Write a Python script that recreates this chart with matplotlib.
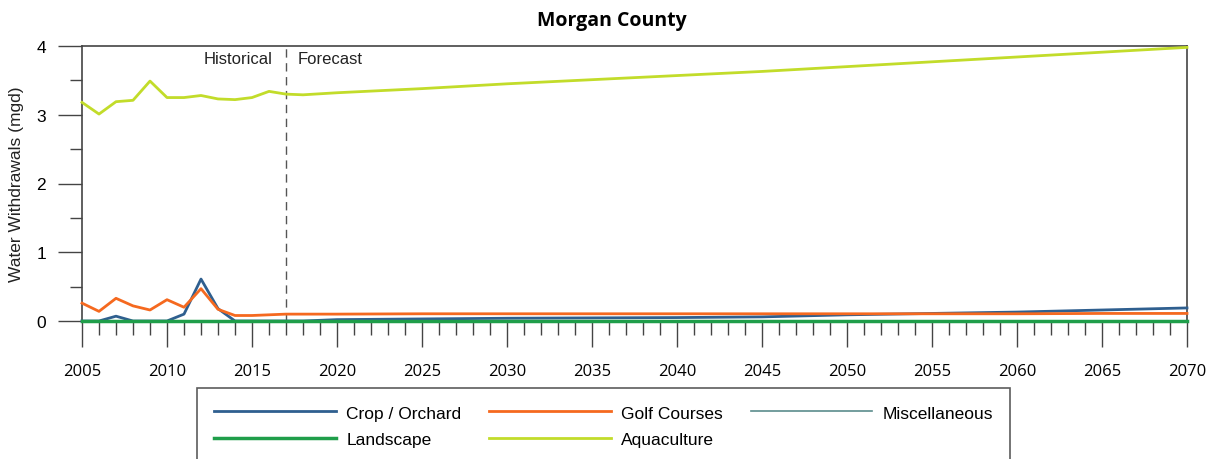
import numpy as np
import matplotlib
matplotlib.use('Agg')
import matplotlib.pyplot as plt
from matplotlib.ticker import MultipleLocator

# ── Data ──────────────────────────────────────────────────────────────────────
years = [2005, 2006, 2007, 2008, 2009, 2010, 2011, 2012, 2013, 2014, 2015,
         2016, 2017, 2018, 2020, 2025, 2030, 2035, 2040, 2045, 2050, 2055,
         2060, 2065, 2070]

crop_orchard = [0.00, 0.00, 0.07, 0.00, 0.00, 0.00, 0.10, 0.61, 0.18, 0.00, 0.00,
                0.00, 0.00, 0.00, 0.02, 0.03, 0.04, 0.045, 0.05, 0.06, 0.09, 0.11,
                0.13, 0.16, 0.19]
golf_courses = [0.26, 0.14, 0.33, 0.22, 0.16, 0.31, 0.20, 0.47, 0.17, 0.08, 0.08,
                0.09, 0.10, 0.10, 0.10, 0.105, 0.105, 0.105, 0.105, 0.105, 0.105, 0.105,
                0.105, 0.11, 0.11]
miscellaneous = [0.0] * len(years)
landscape = [0.0] * len(years)
aquaculture = [3.18, 3.01, 3.19, 3.21, 3.49, 3.25, 3.25, 3.28, 3.23, 3.22, 3.25,
               3.34, 3.30, 3.29, 3.32, 3.38, 3.45, 3.51, 3.57, 3.63, 3.70, 3.77,
               3.84, 3.91, 3.98]

series_names = ['Crop / Orchard', 'Golf Courses', 'Miscellaneous', 'Landscape', 'Aquaculture']
series_vals = [crop_orchard, golf_courses, miscellaneous, landscape, aquaculture]
series_colors = ['#2f5f8f', '#f5691f', '#5b8c8c', '#1f9e4a', '#c2dc2a']
series_widths = [2.0, 2.0, 1.2, 2.5, 2.0]

split_year = 2017

# ── Figure ───────────────────────────────────────────────────────────────────
plt.rcParams['font.family'] = ['Liberation Sans', 'DejaVu Sans']
fig = plt.figure(figsize=(12.15, 4.6), dpi=100)
ax = fig.add_axes([82 / 1215, 1 - 322 / 460, (1187 - 82) / 1215, (322 - 47) / 460])

# order drawn so the green sits above grey misc, as in the reference
draw_order = [2, 0, 1, 4, 3]
handles = {}
for i in draw_order:
    ln, = ax.plot(years, series_vals[i], color=series_colors[i],
                  lw=series_widths[i], clip_on=False, zorder=3,
                  label=series_names[i])
    handles[i] = ln

ax.axvline(split_year, color='#555555', ls=(0, (6, 4)), lw=1.0, zorder=2)
ax.text(split_year - 0.8, 3.93, 'Historical', ha='right', va='top',
        fontsize=12, color='#222222')
ax.text(split_year + 0.7, 3.93, 'Forecast', ha='left', va='top',
        fontsize=12, color='#222222')

ax.set_xlim(2005, 2070)
ax.set_ylim(0, 4)
ax.xaxis.set_major_locator(MultipleLocator(5))
ax.xaxis.set_minor_locator(MultipleLocator(1))
ax.yaxis.set_major_locator(MultipleLocator(1))
ax.yaxis.set_minor_locator(MultipleLocator(0.5))

tick_col = '#444444'
ax.tick_params(axis='x', which='major', direction='out', length=19, width=1.0,
               color=tick_col, pad=11, labelsize=12)
ax.tick_params(axis='x', which='minor', direction='out', length=10, width=1.0,
               color=tick_col)
ax.tick_params(axis='y', which='major', direction='out', length=17, width=1.0,
               color=tick_col, pad=9, labelsize=12.5)
ax.tick_params(axis='y', which='minor', direction='out', length=8.5, width=1.0,
               color=tick_col)
for lbl in ax.get_xticklabels():
    lbl.set_family(['Open Sans', 'DejaVu Sans'])
for sp in ax.spines.values():
    sp.set_color(tick_col)
    sp.set_linewidth(1.2)

ax.set_ylabel('Water Withdrawals (mgd)', fontsize=12.5, color='#222222', labelpad=9)

fig.text(612 / 1215, 1 - 21 / 460, 'Morgan County', ha='center', va='center',
         fontsize=14, fontweight='bold', family=['Open Sans', 'DejaVu Sans'])

# legend fills column-first; order so rows read Crop/Golf/Misc, Landscape/Aqua
leg_order = [0, 3, 1, 4, 2]
leg = fig.legend([handles[i] for i in leg_order],
                 [series_names[i] for i in leg_order], ncol=3,
                 loc='upper left', bbox_to_anchor=(197 / 1215, 1 - 389 / 460),
                 fontsize=12.5, handlelength=7.0, handletextpad=0.6,
                 columnspacing=1.6, borderpad=1.0, labelspacing=0.65,
                 borderaxespad=0.0,
                 frameon=True, fancybox=False, edgecolor='#333333')
leg.get_frame().set_linewidth(1.2)

fig.savefig('out.png', dpi=100)
